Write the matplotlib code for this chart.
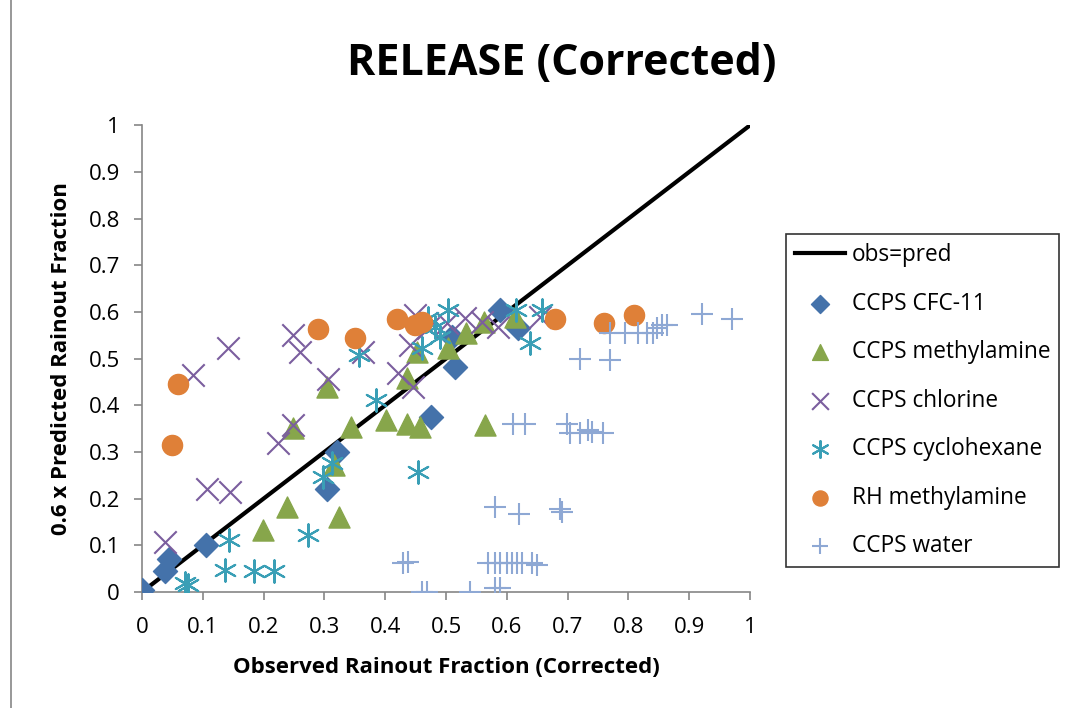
import matplotlib
matplotlib.use("Agg")
import matplotlib.pyplot as plt
from matplotlib.lines import Line2D

plt.rcParams["font.family"] = ["Open Sans", "DejaVu Sans"]

# CCPS CFC-11
cfc_x = [0.0, 0.038, 0.045, 0.105, 0.305, 0.32, 0.475, 0.515, 0.51, 0.589, 0.618]
cfc_y = [0.005, 0.045, 0.07, 0.10, 0.22, 0.30, 0.375, 0.482, 0.546, 0.604, 0.565]

# CCPS methylamine
mea_x = [0.199, 0.238, 0.248, 0.304, 0.316, 0.324, 0.344, 0.401, 0.436, 0.457,
         0.436, 0.452, 0.503, 0.533, 0.562, 0.613, 0.564]
mea_y = [0.133, 0.182, 0.351, 0.439, 0.272, 0.16, 0.353, 0.368, 0.36, 0.353,
         0.458, 0.514, 0.522, 0.555, 0.578, 0.589, 0.358]

# CCPS chlorine
chl_x = [0.038, 0.084, 0.141, 0.107, 0.145, 0.248, 0.26, 0.306, 0.224, 0.248,
         0.364, 0.421, 0.446, 0.441, 0.449, 0.502, 0.531, 0.559, 0.586, 0.655,
         0.47]
chl_y = [0.107, 0.465, 0.522, 0.22, 0.214, 0.55, 0.514, 0.456, 0.319, 0.358,
         0.514, 0.469, 0.439, 0.529, 0.593, 0.576, 0.587, 0.578, 0.568, 0.589,
         0.565]

# CCPS cyclohexane
cyc_x = [0.07, 0.076, 0.137, 0.143, 0.184, 0.217, 0.273, 0.298, 0.312, 0.357,
         0.385, 0.454, 0.461, 0.47, 0.482, 0.49, 0.503, 0.615, 0.638, 0.658]
cyc_y = [0.02, 0.015, 0.047, 0.111, 0.045, 0.045, 0.122, 0.246, 0.276, 0.507,
         0.411, 0.257, 0.522, 0.587, 0.567, 0.546, 0.604, 0.604, 0.533, 0.604]

# RH methylamine
rh_x = [0.049, 0.059, 0.289, 0.35, 0.419, 0.449, 0.46, 0.679, 0.76, 0.809]
rh_y = [0.315, 0.445, 0.563, 0.544, 0.585, 0.572, 0.578, 0.585, 0.576, 0.593]

# CCPS water
wat_x = [0.72, 0.77, 0.921, 0.97, 0.855, 0.863, 0.77, 0.794, 0.816, 0.83,
         0.84, 0.847, 0.61, 0.63, 0.699, 0.704, 0.72, 0.734, 0.74, 0.758,
         0.581, 0.62, 0.687, 0.69, 0.43, 0.437, 0.569, 0.58, 0.589, 0.6,
         0.608, 0.616, 0.625, 0.641, 0.649, 0.46, 0.468, 0.54, 0.581, 0.589]
wat_y = [0.50, 0.497, 0.595, 0.585, 0.572, 0.572, 0.554, 0.554, 0.554, 0.554,
         0.554, 0.565, 0.36, 0.36, 0.36, 0.34, 0.34, 0.347, 0.343, 0.34,
         0.182, 0.167, 0.178, 0.172, 0.062, 0.064, 0.062, 0.062, 0.062, 0.062,
         0.062, 0.062, 0.062, 0.062, 0.058, 0.0, 0.0, 0.0, 0.008, 0.008]

ticks = [0, 0.1, 0.2, 0.3, 0.4, 0.5, 0.6, 0.7, 0.8, 0.9, 1]
tick_labels = ["0", "0.1", "0.2", "0.3", "0.4", "0.5", "0.6", "0.7", "0.8", "0.9", "1"]

fig = plt.figure(figsize=(10.76, 7.08), dpi=100)
ax = fig.add_axes([0.132, 0.164, 0.565, 0.659])

ax.plot([0, 1], [0, 1], color="black", lw=3, label="obs=pred", zorder=1)
ax.scatter(cfc_x, cfc_y, marker="D", s=150, color="#4472AA", label="CCPS CFC-11", zorder=3)
ax.scatter(mea_x, mea_y, marker="^", s=230, color="#87A64B", label="CCPS methylamine", zorder=3)
ax.scatter(chl_x, chl_y, marker="x", s=260, color="#7B5E9E", linewidths=1.5,
           label="CCPS chlorine", zorder=3)
ax.scatter(cyc_x, cyc_y, marker=(6, 2, 0), s=260, color="#3A9FB6", linewidths=1.5,
           label="CCPS cyclohexane", zorder=3)
ax.scatter(rh_x, rh_y, marker="o", s=210, color="#DF8038", label="RH methylamine", zorder=3)
ax.scatter(wat_x, wat_y, marker="+", s=260, color="#8EA8D4", linewidths=1.5,
           label="CCPS water", zorder=3)

ax.set_xlim(0, 1)
ax.set_ylim(0, 1)
ax.set_xticks(ticks)
ax.set_xticklabels(tick_labels)
ax.set_yticks(ticks)
ax.set_yticklabels(tick_labels)
ax.tick_params(labelsize=16, length=6, width=1.2, color="#868686")
ax.tick_params(axis="x", pad=12)
ax.tick_params(axis="y", pad=10)
for side in ["top", "right"]:
    ax.spines[side].set_visible(False)
for side in ["left", "bottom"]:
    ax.spines[side].set_color("#868686")
    ax.spines[side].set_linewidth(1.2)

ax.set_xlabel("Observed Rainout Fraction (Corrected)", fontsize=16, fontweight="bold", labelpad=14)
ax.set_ylabel("0.6 x Predicted Rainout Fraction", fontsize=16, fontweight="bold", labelpad=12)
fig.text(0.522, 0.911, "RELEASE (Corrected)", fontsize=31, fontweight="bold",
         ha="center", va="center")

leg = ax.legend(loc="center left", bbox_to_anchor=(786 / 1076, 0.434),
                bbox_transform=fig.transFigure, fontsize=16.3, frameon=True,
                fancybox=False, edgecolor="black", handlelength=2.2,
                handletextpad=0.3, labelspacing=1.08, borderpad=0.4,
                borderaxespad=0, markerscale=0.75)
leg.get_frame().set_linewidth(1.2)

fig.add_artist(Line2D([0.0105, 0.0105], [0, 1], color="#868686", lw=1.2))

fig.savefig("out.png", dpi=100)
